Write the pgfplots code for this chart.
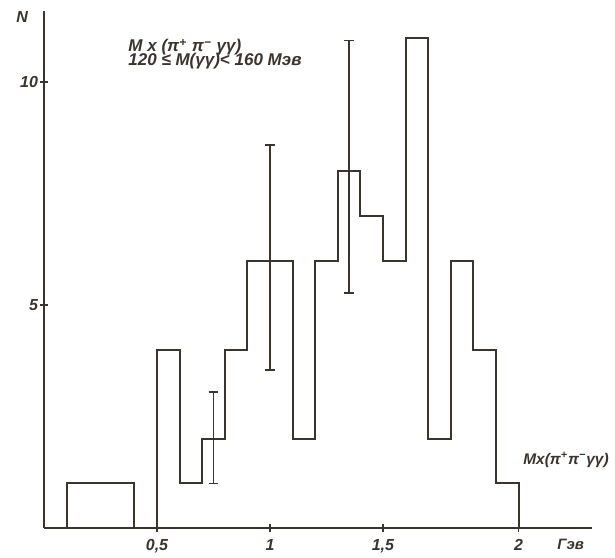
\documentclass[border=0pt]{standalone}
\usepackage{pgfplots}
\pgfplotsset{compat=1.18}
\usepackage{fontspec}
\setmainfont{Liberation Sans}
\definecolor{ink}{RGB}{58,52,46}
\begin{document}
\begin{tikzpicture}
\useasboundingbox (0,0) rectangle (307.5pt,278.5pt);
\begin{axis}[
  at={(22pt,14.5pt)}, anchor=south west,
  scale only axis, width=274pt, height=258.5pt,
  xmin=0, xmax=2.425, ymin=0, ymax=11.6,
  axis x line=bottom, axis y line=left,
  axis line style={-, ink, line width=0.9pt},
  xtick={0.5,1,1.5,2.1}, xticklabels={{0,5},{1},{1,5},{2}},
  ytick={5,10}, yticklabels={5,10},
  tick align=center, major tick length=4pt,
  tick style={ink, line width=0.9pt},
  ticklabel style={font=\fontsize{8}{8}\selectfont\bfseries\itshape, text=ink},
  yticklabel style={xshift=2.5pt},
  clip=false,
]
\addplot[const plot, ink, line width=1pt, mark=none] coordinates {
  (0.1,0) (0.1,1) (0.4,0) (0.5,4) (0.6,1) (0.7,2) (0.8,4) (0.9,6) (1.0,6)
  (1.1,2) (1.2,6) (1.3,8) (1.4,7) (1.5,6) (1.6,11) (1.7,2) (1.8,6)
  (1.9,4) (2.0,1) (2.1,0)
};
\addplot[draw=none, mark=none,
  error bars/.cd, y dir=both, y explicit,
  error bar style={draw=ink, line width=0.9pt},
  error mark options={rotate=90, mark size=2.4pt, draw=ink, line width=0.9pt}]
  coordinates {
  (0.75,2) += (0,1.05) -= (0,1.0)
  (1.0,6) += (0,2.6) -= (0,2.45)
  (1.35,8) += (0,2.94) -= (0,2.73)
};
\node[font=\fontsize{8}{8}\selectfont\bfseries\itshape, text=ink] at (axis cs:-0.097,11.46) {N};
\node[anchor=west, inner sep=0pt, font=\fontsize{8.5}{8.5}\selectfont\bfseries\itshape, text=ink]
  at (axis cs:0.372,10.79) {M x (π\textsuperscript{+} π\textsuperscript{−} γγ)};
\node[anchor=west, inner sep=0pt, font=\fontsize{8.5}{8.5}\selectfont\bfseries\itshape, text=ink]
  at (axis cs:0.372,10.47) {120 ≤ M(γγ)< 160  Мэв};
\node[inner sep=0pt, font=\fontsize{7.7}{7.7}\selectfont\bfseries\itshape, text=ink]
  at (axis cs:2.31,1.53) {Mx(π\textsuperscript{+}π\textsuperscript{−}γγ)};
\node[anchor=west, inner sep=0pt, font=\fontsize{7.5}{7.5}\selectfont\bfseries\itshape, text=ink]
  at (axis cs:2.27,-0.37) {Гэв};
\end{axis}
\end{tikzpicture}
\end{document}
